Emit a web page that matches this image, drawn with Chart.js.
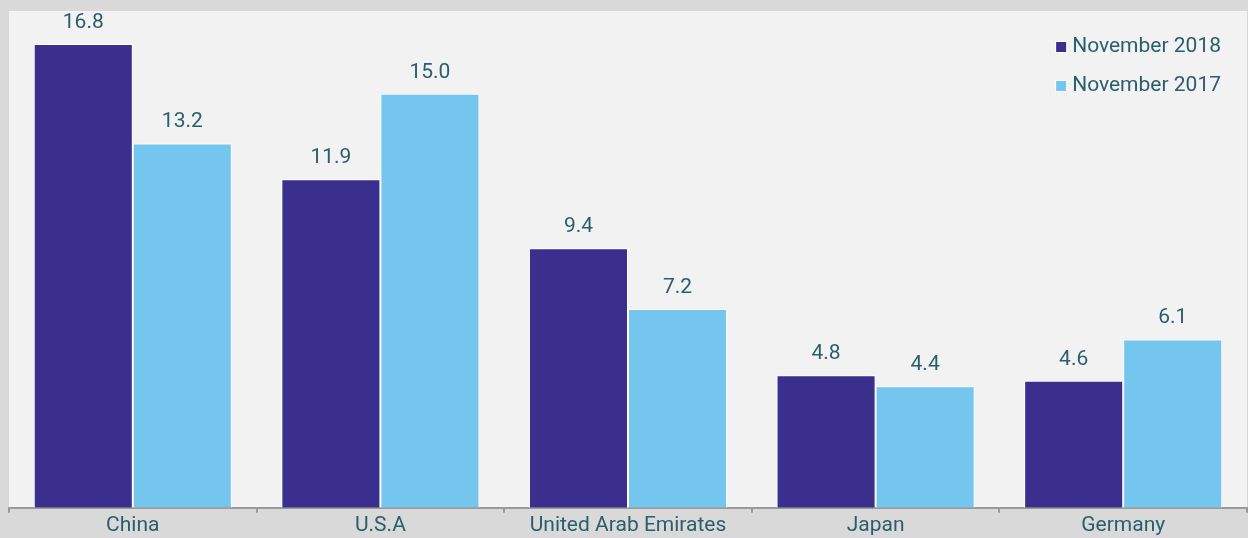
<!DOCTYPE html>
<html>
<head>
<meta charset="utf-8">
<script src="https://cdn.jsdelivr.net/npm/chart.js@4/dist/chart.umd.min.js"></script>
<style>
  html, body { margin: 0; padding: 0; background: #d9d9d9; }
  #wrap { width: 1248px; height: 538px; }
</style>
</head>
<body>
<div id="wrap"><canvas id="chart"></canvas></div>
<script>
const countries = ['China', 'U.S.A', 'United Arab Emirates', 'Japan', 'Germany'];
const nov2018 = [16.8, 11.9, 9.4, 4.8, 4.6];
const nov2017 = [13.2, 15.0, 7.2, 4.4, 6.1];

const textColor = '#2b5e6d';
const fontFamily = 'Roboto, "Open Sans", sans-serif';

// fondo grigio chiaro dell'area del grafico
const plotBg = {
    id: 'plotBg',
    beforeDraw(chart) {
        const { ctx, chartArea: a } = chart;
        ctx.save();
        ctx.fillStyle = '#f2f2f2';
        ctx.fillRect(a.left, a.top, a.right - a.left, a.bottom - a.top);
        ctx.restore();
    }
};

// valori sopra le barre
const valueLabels = {
    id: 'valueLabels',
    afterDatasetsDraw(chart) {
        const ctx = chart.ctx;
        ctx.save();
        ctx.font = '21px ' + fontFamily;
        ctx.fillStyle = textColor;
        ctx.textAlign = 'center';
        ctx.textBaseline = 'alphabetic';
        chart.data.datasets.forEach((ds, i) => {
            chart.getDatasetMeta(i).data.forEach((bar, j) => {
                ctx.fillText(ds.data[j].toFixed(1), bar.x, bar.y - 16);
            });
        });
        ctx.restore();
    }
};

// legenda dentro l'area, in alto a destra
const innerLegend = {
    id: 'innerLegend',
    afterDraw(chart) {
        const ctx = chart.ctx;
        const right = chart.chartArea.right - 26;
        ctx.save();
        ctx.font = '21px ' + fontFamily;
        ctx.textBaseline = 'middle';
        chart.data.datasets.forEach((ds, i) => {
            const y = 47 + i * 39;
            const w = ctx.measureText(ds.label).width;
            const x = right - w;
            ctx.fillStyle = '#ffffff';
            ctx.fillRect(x - 17, y - 6, 12, 12);
            ctx.fillStyle = ds.backgroundColor;
            ctx.fillRect(x - 16, y - 5, 10, 10);
            ctx.fillStyle = textColor;
            ctx.textAlign = 'left';
            ctx.fillText(ds.label, x, y);
        });
        ctx.restore();
    }
};

new Chart(document.getElementById('chart'), {
    type: 'bar',
    data: {
        labels: countries,
        datasets: [
            {
                label: 'November 2018',
                data: nov2018,
                backgroundColor: '#3b2f8e',
                borderColor: '#ffffff',
                borderWidth: 1,
                borderSkipped: 'bottom'
            },
            {
                label: 'November 2017',
                data: nov2017,
                backgroundColor: '#74c6ef',
                borderColor: '#ffffff',
                borderWidth: 1,
                borderSkipped: 'bottom'
            }
        ]
    },
    options: {
        responsive: true,
        maintainAspectRatio: false,
        animation: false,
        layout: { padding: { left: 9, top: 11, right: 1, bottom: 0 } },
        datasets: { bar: { categoryPercentage: 0.8, barPercentage: 1.0 } },
        plugins: {
            legend: { display: false },
            tooltip: { enabled: false }
        },
        scales: {
            x: {
                grid: {
                    display: true,
                    drawOnChartArea: false,
                    drawTicks: true,
                    tickLength: 5,
                    color: '#999999',
                    lineWidth: 2
                },
                border: { display: true, color: '#999999', width: 2 },
                ticks: {
                    color: textColor,
                    font: { family: fontFamily, size: 21 },
                    padding: 0,
                    maxRotation: 0,
                    autoSkip: false
                }
            },
            y: {
                display: false,
                min: 0,
                max: 18
            }
        }
    },
    plugins: [plotBg, valueLabels, innerLegend]
});
</script>
</body>
</html>
